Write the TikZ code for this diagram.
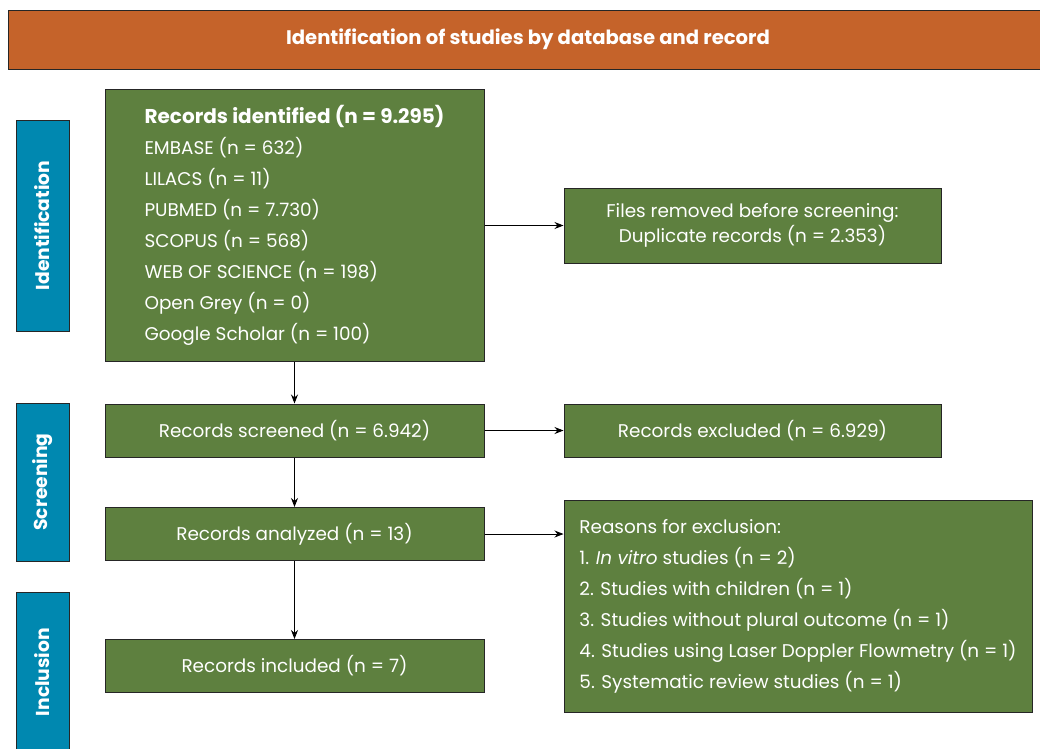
\documentclass[tikz,border=0pt]{standalone}
\usepackage{fontspec}
\setmainfont{Poppins}
\usepackage{xcolor}
\usetikzlibrary{arrows.meta,positioning}
\definecolor{headorange}{RGB}{197,99,42}
\definecolor{stageblue}{RGB}{0,136,176}
\definecolor{boxgreen}{RGB}{94,128,63}
\tikzset{%
	header/.style   = {draw=black!85, fill=headorange, text=white, line width=1pt, minimum width=1040, minimum height=59, font=\bfseries\fontsize{19.6}{22}\selectfont},
	stage/.style    = {draw=black!85, fill=stageblue, text=white, line width=1pt, rotate=90, minimum height=53, font=\bfseries\fontsize{18.7}{22}\selectfont},
	block/.style    = {draw=black!85, fill=boxgreen, text=white, line width=1pt, minimum width=379, minimum height=53, font=\fontsize{18.4}{31}\selectfont},
	sidebox/.style  = {block, minimum width=377},
	arrow/.style    = {line width=0.9pt, ->},
}
\begin{document}
\begin{tikzpicture}[x=1pt,y=-1pt,>={Stealth[length=9pt,width=7pt]}]
	\useasboundingbox (0,0) rectangle (1040,748);
	% header and stages
	\node[header] (head) at (528,39.5) {Identification of studies by database and record};
	\node[stage, minimum width=211] (ident) at (42.5,225.5) {Identification};
	\node[stage, minimum width=158] (screen) at (42.5,482) {Screening};
	\node[stage, minimum width=160] (incl) at (42.5,672) {Inclusion};
	% main column
	\node[block, align=left, minimum height=272] (records) at (294.5,225) {{\bfseries\fontsize{20}{31}\selectfont Records identified (n = 9.295)}\\
		EMBASE (n = 632)\\
		LILACS (n = 11)\\
		PUBMED (n = 7.730)\\
		SCOPUS (n = 568)\\
		WEB OF SCIENCE (n = 198)\\
		Open Grey (n = 0)\\
		Google Scholar (n = 100)};
	\node[block] (screened) at (294.5,430.5) {Records screened (n = 6.942)};
	\node[block] (analyzed) at (294.5,534) {Records analyzed (n = 13)};
	\node[block] (included) at (294.5,666) {Records included (n = 7)};
	% side column
	\node[sidebox, align=center, minimum height=75, font=\fontsize{18.4}{25}\selectfont] (removed) at (752.5,225.5) {Files removed before screening:\\Duplicate records (n = 2.353)};
	\node[sidebox] (excluded) at (752.5,430.5) {Records excluded (n = 6.929)};
	\node[block, align=left, minimum width=468, minimum height=212] (reasons) at (798,606) {Reasons for exclusion:\\
		1. \textit{In vitro} studies (n = 2)\\
		2. Studies with children (n = 1)\\
		3. Studies without plural outcome (n = 1)\\
		4. Studies using Laser Doppler Flowmetry (n = 1)\\
		5. Systematic review studies (n = 1)};
	% connectors
	\draw[arrow] (records) -- (screened);
	\draw[arrow] (screened) -- (analyzed);
	\draw[arrow] (analyzed) -- (included);
	\draw[arrow] (records.east |- removed) -- (removed.west);
	\draw[arrow] (screened) -- (excluded);
	\draw[arrow] (analyzed) -- (reasons.west |- analyzed);
\end{tikzpicture}
\end{document}
